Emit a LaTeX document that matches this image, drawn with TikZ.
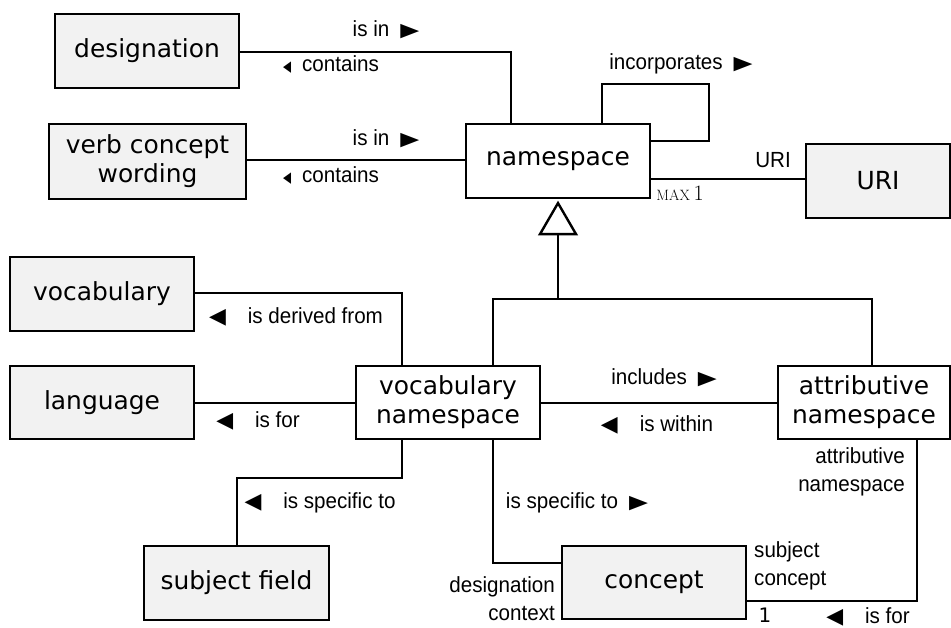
\documentclass[tikz,border=0pt]{standalone}
\usepackage{fontspec}
\usepackage{graphicx}
\setmainfont{DejaVu Sans}
\newfontfamily\boxfont{DejaVu Sans}
\newfontfamily\lblfont[FakeStretch=0.94]{Liberation Sans}
\newfontfamily\symfont{DejaVu Sans}
\newfontfamily\lmfont{Latin Modern Roman}
\newcommand{\rtri}{{\symfont\fontsize{19}{19}\selectfont\scalebox{1.3}[1]{▶}}}
\newcommand{\ltri}{{\symfont\fontsize{22}{22}\selectfont ◀}}
\newcommand{\sltri}{{\symfont\fontsize{15}{15}\selectfont\scalebox{0.7}[1]{◀}}}
\definecolor{boxgray}{HTML}{F2F2F2}
\begin{document}
\begin{tikzpicture}[x=1bp,y=-1bp,
  umlbox/.style={draw=black, line width=2.2bp, inner sep=0pt, align=center,
    font=\boxfont\fontsize{25}{29}\selectfont},
  graybox/.style={umlbox, fill=boxgray},
  whitebox/.style={umlbox, fill=white},
  conn/.style={draw=black, line width=2bp},
  lbl/.style={inner sep=0pt, align=center, font=\lblfont\fontsize{22}{28}\selectfont},
  ]
\useasboundingbox (0,0) rectangle (951,628);

% boxes
\node[graybox, minimum width=184bp, minimum height=74bp] (designation) at (147,51) {designation};
\node[graybox, minimum width=197bp, minimum height=75bp] (verb) at (147.5,161.5) {verb concept\\wording};
\node[whitebox, minimum width=184bp, minimum height=74bp] (namespace) at (558,161) {namespace};
\node[graybox, minimum width=144bp, minimum height=74bp] (uri) at (878,181) {URI};
\node[graybox, minimum width=184bp, minimum height=74bp] (vocabulary) at (102,294) {vocabulary};
\node[graybox, minimum width=184bp, minimum height=73bp] (language) at (102,402.5) {language};
\node[whitebox, minimum width=184bp, minimum height=73bp] (vocabns) at (448,402.5) {vocabulary\\namespace};
\node[whitebox, minimum width=172bp, minimum height=73bp] (attrns) at (864,402.5) {attributive\\namespace};
\node[graybox, minimum width=185bp, minimum height=74bp] (subjectfield) at (236.5,583) {subject field};
\node[graybox, minimum width=184bp, minimum height=73bp] (concept) at (654,582.5) {concept};

% connectors
\draw[conn] ([yshift=-1bp]designation.east) -| ([xshift=46bp]namespace.north west);
\draw[conn] ([yshift=1bp]verb.east) -- ([yshift=1bp]verb.east -| namespace.west);
\draw[conn] ([xshift=137bp]namespace.north west) -- ++(0,-39) -- ++(107,0)
  |- ([yshift=-18bp]namespace.north east);
\draw[conn] ([yshift=-18bp]namespace.east) coordinate (u1) -- (u1 -| uri.west);

% generalization
\draw[conn, line width=2.4bp, line join=miter] ([yshift=-4bp]namespace.south) -- ++(-18,31) -- ++(36,0) -- cycle;
\coordinate (tb) at ([yshift=-35bp]namespace.south);
\draw[conn] (tb) -- ++(0,65) coordinate (j);
\draw[conn] ([xshift=45bp]vocabns.north) |- (j) -| ([xshift=8bp]attrns.north);

\draw[conn] ([yshift=1bp]vocabulary.east) -| ([xshift=-46bp]vocabns.north);
\draw[conn] (language.east) -- (vocabns.west);
\draw[conn] ([xshift=-46bp]vocabns.south) -- ++(0,38) -| (subjectfield.north);
\draw[conn] (vocabns.east) -- (attrns.west);
\draw[conn] ([xshift=45bp]vocabns.south) |- ([yshift=19.5bp]concept.west);
\draw[conn] ([xshift=53bp]attrns.south) |- ([yshift=-18.5bp]concept.east);

% labels
\node[lbl] (l1) at (386,30) {is in\enspace\rtri};
\node[lbl] (l2) at (331,64) {\sltri\enspace contains};
\node[lbl] (l3) at (386,139) {is in\enspace\rtri};
\node[lbl] (l4) at (331,175) {\sltri\enspace contains};
\node[lbl] (l5) at (681,64) {incorporates\enspace\rtri};
\node[lbl] (l6) at (773,160) {URI};
\node[inner sep=0pt, font=\lmfont\fontsize{22}{22}\selectfont] (l7) at (680,193) {{\fontsize{15}{15}\selectfont MAX}\,1};
\node[lbl] (l8) at (296,317) {\ltri\quad is derived from};
\node[lbl] (l9) at (258,421) {\ltri\quad is for};
\node[lbl] (l10) at (320,503) {\ltri\quad is specific to};
\node[lbl] (l11) at (664,378) {includes\enspace\rtri};
\node[lbl] (l12) at (657,425) {\ltri\quad is within};
\node[lbl] (l13) at (577,503) {is specific to\enspace\rtri};
\node[lbl, anchor=east, align=right] (l14) at (555,599) {designation\\context};
\node[lbl, anchor=east, align=right] (l15) at (905,472) {attributive\\namespace};
\node[lbl, anchor=west, align=left] (l16) at (754,566) {subject\\concept};
\node[inner sep=0pt, font=\boxfont\fontsize{20}{20}\selectfont] (l17) at (765,615) {1};
\node[lbl] (l18) at (868,617) {\ltri\quad is for};
\end{tikzpicture}
\end{document}
